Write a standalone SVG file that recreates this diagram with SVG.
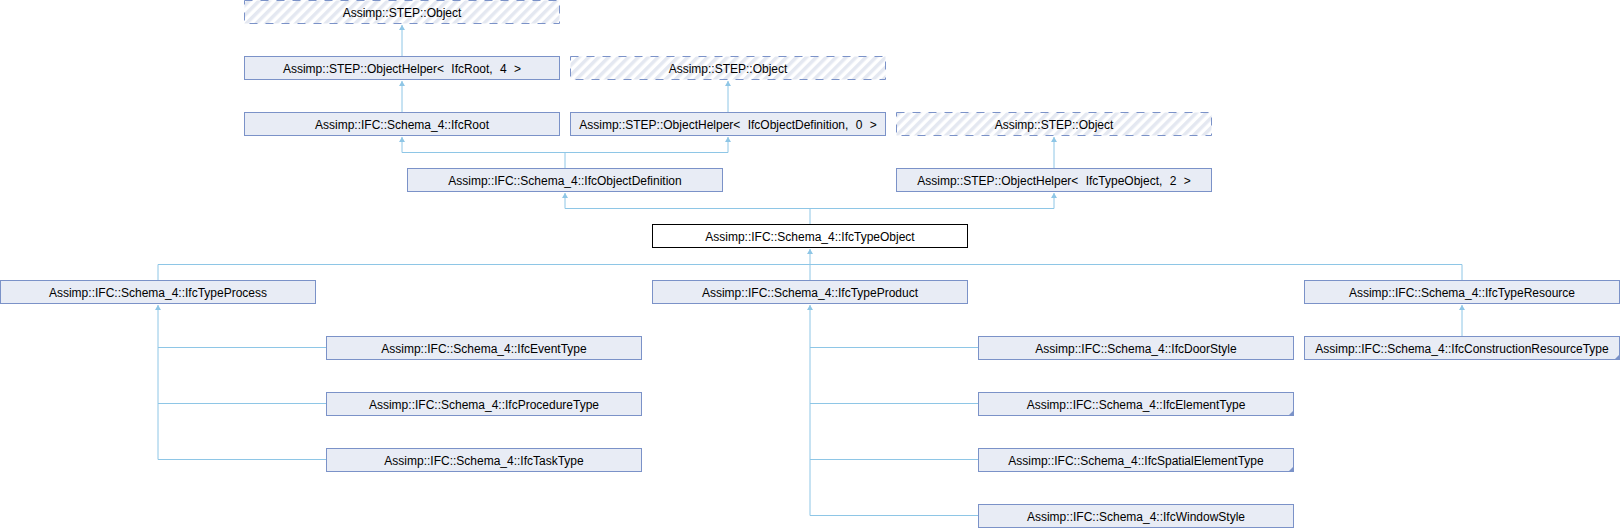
<svg xmlns="http://www.w3.org/2000/svg" width="1620" height="528" viewBox="0 0 1620 528">
<style>
.b{fill:#e8ecf5;stroke:#7b92c8;stroke-width:1}
.d{fill:url(#hatch);stroke:#7b92c8;stroke-width:1;stroke-dasharray:8,8}
.w{fill:#ffffff;stroke:#000000;stroke-width:1}
.f{fill:#7b92c8}
text{font-family:"Liberation Sans",Arial,sans-serif;font-size:12px;fill:#000;text-anchor:middle}
.t{word-spacing:4px}
.c{fill:none;stroke:#8ec6e6;stroke-width:1}
</style>
<defs>
<pattern id="hatch" patternUnits="userSpaceOnUse" width="7" height="7" patternTransform="rotate(45)">
<rect width="7" height="7" fill="#ffffff"/>
<rect width="3.5" height="7" fill="#e4e8f1"/>
</pattern>
<marker id="arr" markerUnits="userSpaceOnUse" markerWidth="6" markerHeight="6" refX="5" refY="3" orient="auto">
<path d="M0,0 L5,3 L0,6 z" fill="#8ec6e6"/>
</marker>
</defs>
<rect width="1620" height="528" fill="#ffffff"/>
<g id="connectors">
<path class="c" d="M402,56.5 V25" marker-end="url(#arr)"/>
<path class="c" d="M402,112.5 V81" marker-end="url(#arr)"/>
<path class="c" d="M728,112.5 V81" marker-end="url(#arr)"/>
<path class="c" d="M565,168.5 V152.5 H402 V137" marker-end="url(#arr)"/>
<path class="c" d="M565,152.5 H728 V137" marker-end="url(#arr)"/>
<path class="c" d="M1054,168.5 V137" marker-end="url(#arr)"/>
<path class="c" d="M810,224.5 V208.5 H565 V193" marker-end="url(#arr)"/>
<path class="c" d="M810,208.5 H1054 V193" marker-end="url(#arr)"/>
<path class="c" d="M810,280.5 V249" marker-end="url(#arr)"/>
<path class="c" d="M158,280.5 V264.5 H1462 V280.5"/>
<path class="c" d="M158,459.5 V305" marker-end="url(#arr)"/>
<path class="c" d="M158,347.5 H326.5 M158,403.5 H326.5 M158,459.5 H326.5"/>
<path class="c" d="M810,515.5 V305" marker-end="url(#arr)"/>
<path class="c" d="M810,347.5 H978.5 M810,403.5 H978.5 M810,459.5 H978.5 M810,515.5 H978.5"/>
<path class="c" d="M1462,336.5 V305" marker-end="url(#arr)"/>
</g>
<g id="n1"><rect class="d" x="244.5" y="0.5" width="315" height="23"/><text x="402" y="16.5">Assimp::STEP::Object</text></g>
<g id="n2"><rect class="b" x="244.5" y="56.5" width="315" height="23"/><text class="t" x="402" y="72.5">Assimp::STEP::ObjectHelper&lt; IfcRoot, 4 &gt;</text></g>
<g id="n3"><rect class="b" x="244.5" y="112.5" width="315" height="23"/><text x="402" y="128.5">Assimp::IFC::Schema_4::IfcRoot</text></g>
<g id="n4"><rect class="d" x="570.5" y="56.5" width="315" height="23"/><text x="728" y="72.5">Assimp::STEP::Object</text></g>
<g id="n5"><rect class="b" x="570.5" y="112.5" width="315" height="23"/><text class="t" x="728" y="128.5">Assimp::STEP::ObjectHelper&lt; IfcObjectDefinition, 0 &gt;</text></g>
<g id="n6"><rect class="b" x="407.5" y="168.5" width="315" height="23"/><text x="565" y="184.5">Assimp::IFC::Schema_4::IfcObjectDefinition</text></g>
<g id="n7"><rect class="d" x="896.5" y="112.5" width="315" height="23"/><text x="1054" y="128.5">Assimp::STEP::Object</text></g>
<g id="n8"><rect class="b" x="896.5" y="168.5" width="315" height="23"/><text class="t" x="1054" y="184.5">Assimp::STEP::ObjectHelper&lt; IfcTypeObject, 2 &gt;</text></g>
<g id="n9"><rect class="w" x="652.5" y="224.5" width="315" height="23"/><text x="810" y="240.5">Assimp::IFC::Schema_4::IfcTypeObject</text></g>
<g id="n10"><rect class="b" x="0.5" y="280.5" width="315" height="23"/><text x="158" y="296.5">Assimp::IFC::Schema_4::IfcTypeProcess</text></g>
<g id="n11"><rect class="b" x="652.5" y="280.5" width="315" height="23"/><text x="810" y="296.5">Assimp::IFC::Schema_4::IfcTypeProduct</text></g>
<g id="n12"><rect class="b" x="1304.5" y="280.5" width="315" height="23"/><text x="1462" y="296.5">Assimp::IFC::Schema_4::IfcTypeResource</text></g>
<g id="n13"><rect class="b" x="326.5" y="336.5" width="315" height="23"/><text x="484" y="352.5">Assimp::IFC::Schema_4::IfcEventType</text></g>
<g id="n14"><rect class="b" x="326.5" y="392.5" width="315" height="23"/><text x="484" y="408.5">Assimp::IFC::Schema_4::IfcProcedureType</text></g>
<g id="n15"><rect class="b" x="326.5" y="448.5" width="315" height="23"/><text x="484" y="464.5">Assimp::IFC::Schema_4::IfcTaskType</text></g>
<g id="n16"><rect class="b" x="978.5" y="336.5" width="315" height="23"/><text x="1136" y="352.5">Assimp::IFC::Schema_4::IfcDoorStyle</text></g>
<g id="n17"><rect class="b" x="978.5" y="392.5" width="315" height="23"/><polygon class="f" points="1293.5,410.5 1293.5,415.5 1288.5,415.5"/><text x="1136" y="408.5">Assimp::IFC::Schema_4::IfcElementType</text></g>
<g id="n18"><rect class="b" x="978.5" y="448.5" width="315" height="23"/><polygon class="f" points="1293.5,466.5 1293.5,471.5 1288.5,471.5"/><text x="1136" y="464.5">Assimp::IFC::Schema_4::IfcSpatialElementType</text></g>
<g id="n19"><rect class="b" x="978.5" y="504.5" width="315" height="23"/><text x="1136" y="520.5">Assimp::IFC::Schema_4::IfcWindowStyle</text></g>
<g id="n20"><rect class="b" x="1304.5" y="336.5" width="315" height="23"/><polygon class="f" points="1619.5,354.5 1619.5,359.5 1614.5,359.5"/><text x="1462" y="352.5">Assimp::IFC::Schema_4::IfcConstructionResourceType</text></g>
</svg>
